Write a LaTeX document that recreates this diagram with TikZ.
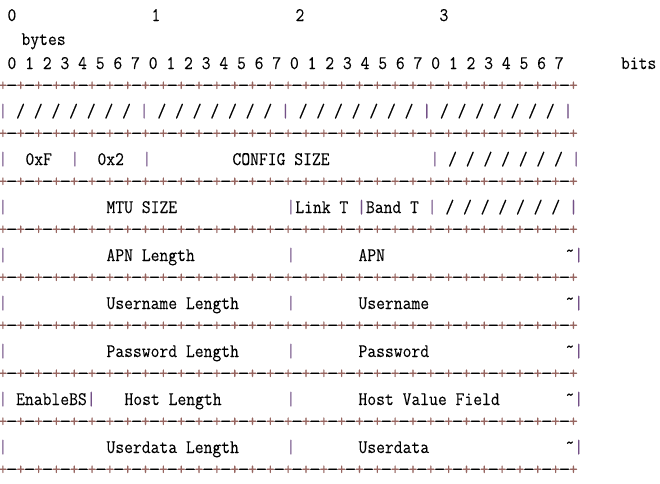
\documentclass[tikz,border=0pt]{standalone}
\usepackage{fontspec}
\setmonofont[FakeBold=0.08]{Latin Modern Mono}
\definecolor{barc}{RGB}{115,80,135}
\definecolor{plusc}{RGB}{150,100,95}
\newcommand\PLmk{{\color{plusc}+}}
\newcommand\BRmk{{\color{barc}|}}
\newcommand\TLmk{\raisebox{4pt}{\textasciitilde}}
\newcommand\DSmk{\makebox[9pt][c]{\scalebox{1.4}[1]{-}}}
\newcommand\bpair{\PLmk\DSmk}
\newcommand\bquad{\bpair\bpair\bpair\bpair}
\newcommand\bfullline{\bquad\bquad\bquad\bquad\bquad\bquad\bquad\bquad\PLmk}
\newcommand\slashes{/ / / / / / /}
\begin{document}
\begin{tikzpicture}[x=1pt,y=-1pt,
  tt/.style={font=\ttfamily\fontsize{17.143}{20}\selectfont, inner sep=0pt, outer sep=0pt, anchor=base west}]
\useasboundingbox[fill=white] (0,0) rectangle (660,483);
\newcommand\tk[4]{\node[tt] (#1) at ({-1.5+9*(#2)},#3) {\scalebox{1}[1.12]{#4}};}
% header
\tk{h0}{1}{21}{0}
\tk{h1}{17}{21}{1}
\tk{h2}{33}{21}{2}
\tk{h3}{49}{21}{3}
\node[tt] (bytes) at (21.5,45) {\scalebox{1}[1.12]{bytes}};
\tk{bitnums}{1}{69}{0 1 2 3 4 5 6 7 0 1 2 3 4 5 6 7 0 1 2 3 4 5 6 7 0 1 2 3 4 5 6 7}
\node[tt] (bits) at (621,69) {\scalebox{1}[1.12]{bits}};
% borders
\foreach \k in {0,...,8}{
  \node[tt] (border\k) at (-1.5,{90.5+48*\k}) {\bfullline};
}
% row 1: reserved
\tk{r1}{0}{117}{\BRmk{} \slashes{} \BRmk{} \slashes{} \BRmk{} \slashes{} \BRmk{} \slashes{} \BRmk}
% row 2
\tk{r2a}{0}{165}{\BRmk}
\tk{r2b}{3}{165}{0xF}
\tk{r2c}{8}{165}{\BRmk}
\tk{r2d}{11}{165}{0x2}
\tk{r2e}{16}{165}{\BRmk}
\tk{r2f}{26}{165}{CONFIG SIZE}
\tk{r2g}{48}{165}{\BRmk{} \slashes{} \BRmk}
% row 3
\tk{r3a}{0}{213}{\BRmk}
\tk{r3b}{12}{213}{MTU SIZE}
\tk{r3c}{32}{213}{\BRmk{}Link T \BRmk{}Band T \BRmk{} \slashes{} \BRmk}
% row 4
\tk{r4a}{0}{261}{\BRmk}
\tk{r4b}{12}{261}{APN Length}
\tk{r4c}{32}{261}{\BRmk}
\tk{r4d}{40}{261}{APN}
\tk{r4e}{63}{261}{\TLmk\BRmk}
% row 5
\tk{r5a}{0}{309}{\BRmk}
\tk{r5b}{12}{309}{Username Length}
\tk{r5c}{32}{309}{\BRmk}
\tk{r5d}{40}{309}{Username}
\tk{r5e}{63}{309}{\TLmk\BRmk}
% row 6
\tk{r6a}{0}{357}{\BRmk}
\tk{r6b}{12}{357}{Password Length}
\tk{r6c}{32}{357}{\BRmk}
\tk{r6d}{40}{357}{Password}
\tk{r6e}{63}{357}{\TLmk\BRmk}
% row 7
\tk{r7a}{0}{405}{\BRmk{} EnableBS\BRmk}
\tk{r7b}{14}{405}{Host Length}
\tk{r7c}{32}{405}{\BRmk}
\tk{r7d}{40}{405}{Host Value Field}
\tk{r7e}{63}{405}{\TLmk\BRmk}
% row 8
\tk{r8a}{0}{453}{\BRmk}
\tk{r8b}{12}{453}{Userdata Length}
\tk{r8c}{32}{453}{\BRmk}
\tk{r8d}{40}{453}{Userdata}
\tk{r8e}{63}{453}{\TLmk\BRmk}
\end{tikzpicture}
\end{document}
